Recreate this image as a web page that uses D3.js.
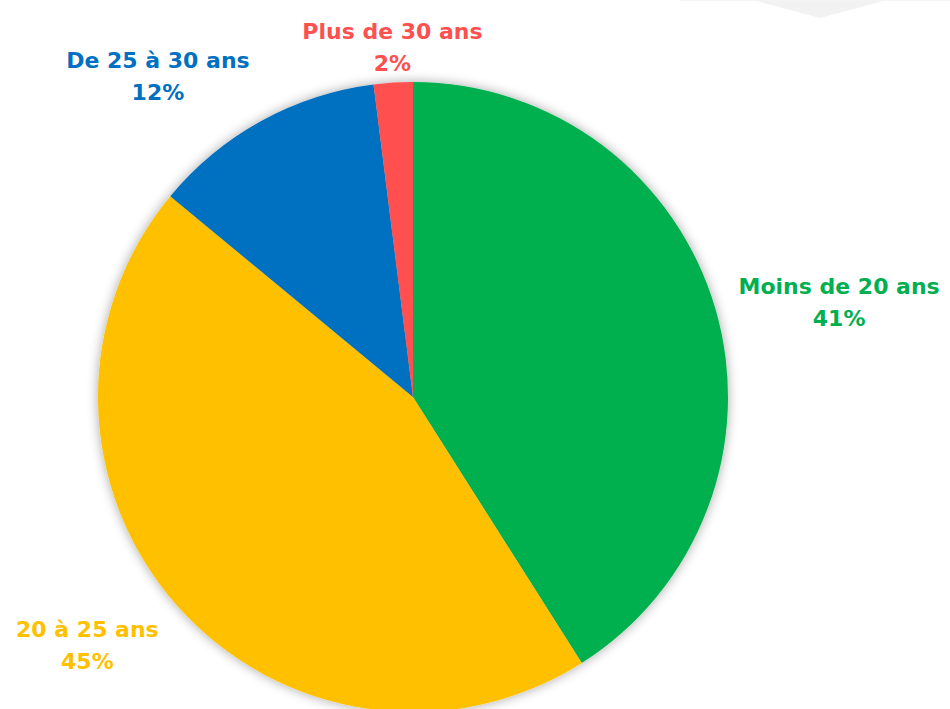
<!DOCTYPE html>
<html>
<head>
<meta charset="utf-8">
<script src="https://cdn.jsdelivr.net/npm/d3@7"></script>
<style>
  html, body { margin: 0; padding: 0; background: #fff; }
  svg { display: block; }
</style>
</head>
<body>
<div id="chart"></div>
<script>
// chart data
var categories = ["Moins de 20 ans", "20 à 25 ans", "De 25 à 30 ans", "Plus de 30 ans"];
var values = [41, 45, 12, 2];
var colors = ["#00B050", "#FFC000", "#0070C0", "#FF5050"];

var width = 950, height = 709;
var cx = 413, cy = 397, radius = 315;

var svg = d3.select("#chart")
  .append("svg")
    .attr("width", width)
    .attr("height", height);

// soft shadow under the pie
var defs = svg.append("defs");
var filter = defs.append("filter")
    .attr("id", "shadow")
    .attr("x", "-20%").attr("y", "-20%")
    .attr("width", "140%").attr("height", "140%");
filter.append("feGaussianBlur")
    .attr("in", "SourceAlpha")
    .attr("stdDeviation", 6);
filter.append("feComponentTransfer")
  .append("feFuncA")
    .attr("type", "linear")
    .attr("slope", 0.35);
var merge = filter.append("feMerge");
merge.append("feMergeNode");
merge.append("feMergeNode").attr("in", "SourceGraphic");

// faint grey chevron at the top right of the slide
svg.append("polygon")
    .attr("points", [[753, 0], [887, 0], [820, 18]].map(function(p) { return p.join(","); }).join(" "))
    .attr("fill", "#f2f2f2");
svg.append("line")
    .attr("x1", 680).attr("x2", width)
    .attr("y1", 0.5).attr("y2", 0.5)
    .attr("stroke", "#f4f4f4");

var pie = d3.pie()
    .sort(null)
    .value(function(d) { return d; });

var arcs = pie(values);

var arc = d3.arc()
    .innerRadius(0)
    .outerRadius(radius);

var g = svg.append("g")
    .attr("transform", `translate(${cx},${cy})`);

g.append("g")
    .attr("filter", "url(#shadow)")
  .selectAll("path")
  .data(arcs)
  .enter()
  .append("path")
    .attr("d", arc)
    .attr("fill", function(d, i) { return colors[i]; });

// labels placed just outside the slice, anchored by direction
var fontSize = 22, lineHeight = 32, capHeight = fontSize * 0.73;
var blockHeight = capHeight + lineHeight;

arcs.forEach(function(d, i) {
    var mid = (d.startAngle + d.endAngle) / 2;
    var sx = Math.sin(mid), sy = -Math.cos(mid);
    var lr = radius + (Math.abs(sx) < 0.3 ? 12 : 24);
    var px = sx * lr, py = sy * lr;

    var anchor = sx > 0.3 ? "start" : (sx < -0.3 ? "end" : "middle");
    var top;
    if (sy > 0.3) top = py;
    else if (sy < -0.3) top = py - blockHeight;
    else top = py - blockHeight / 2;

    // centre the two lines on each other for start/end anchored blocks
    var label = g.append("text")
        .attr("font-family", "'DejaVu Sans', sans-serif")
        .attr("font-weight", "bold")
        .attr("font-size", fontSize)
        .attr("fill", colors[i])
        .attr("text-anchor", "middle");

    var t1 = label.append("tspan").text(categories[i]);
    var w = t1.node().getComputedTextLength();
    var centerX = anchor === "start" ? px + w / 2 : (anchor === "end" ? px - w / 2 : px);

    t1.attr("x", centerX).attr("y", top + capHeight);
    label.append("tspan")
        .attr("x", centerX)
        .attr("y", top + capHeight + lineHeight)
        .text(values[i] + "%");
});
</script>
</body>
</html>
